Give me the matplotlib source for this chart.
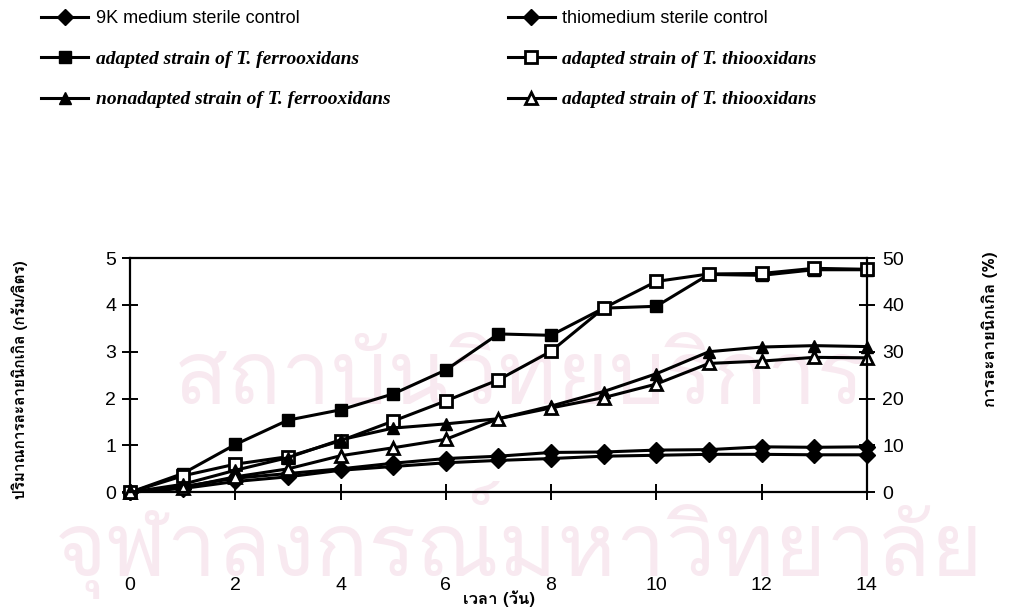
#!/usr/bin/env python3
"""Nickel leaching over time for the sterile controls and the bacterial strains."""

import matplotlib
matplotlib.use("Agg")
import matplotlib.pyplot as plt
from matplotlib import font_manager
from matplotlib.ft2font import FT2Font

days = list(range(15))

# dissolved nickel, g/L
ctrl_9k = [0, 0.12, 0.30, 0.40, 0.50, 0.62, 0.72, 0.77, 0.85, 0.86, 0.90, 0.91, 0.97, 0.96, 0.97]
ctrl_thio = [0, 0.08, 0.23, 0.33, 0.47, 0.55, 0.63, 0.68, 0.72, 0.77, 0.79, 0.81, 0.81, 0.80, 0.80]
ferro_adapted = [0, 0.40, 1.02, 1.54, 1.76, 2.10, 2.61, 3.38, 3.35, 3.93, 3.97, 4.65, 4.63, 4.75, 4.75]
thio_adapted_sq = [0, 0.35, 0.60, 0.76, 1.10, 1.52, 1.95, 2.40, 3.01, 3.93, 4.50, 4.66, 4.67, 4.78, 4.76]
ferro_nonadapted = [0, 0.17, 0.47, 0.74, 1.12, 1.37, 1.46, 1.57, 1.84, 2.15, 2.53, 3.00, 3.10, 3.13, 3.11]
thio_adapted_tri = [0, 0.10, 0.33, 0.50, 0.78, 0.95, 1.13, 1.57, 1.80, 2.02, 2.31, 2.75, 2.80, 2.88, 2.87]

labels = [
    "9K medium sterile control",
    "adapted strain of T. ferrooxidans",
    "nonadapted strain of T. ferrooxidans",
    "thiomedium sterile control",
    "adapted strain of T. thiooxidans",
    "adapted strain of T. thiooxidans",
]


def thai_family():
    # first installed font that actually has Thai glyphs
    for f in font_manager.fontManager.ttflist:
        try:
            if ord("ก") in FT2Font(f.fname).get_charmap():
                return f.name
        except Exception:
            continue
    return "DejaVu Sans"


THAI = [thai_family(), "DejaVu Sans"]
plt.rcParams["font.family"] = ["Liberation Sans", "DejaVu Sans"]

fig = plt.figure(figsize=(10.09, 6.10), dpi=100)
ax = fig.add_axes([0.129, 0.193, 0.730, 0.384])

# faint library stamp, kept underneath everything else
wm = "#f8e9f0"
fig.text(0.515, 0.375, "สถาบันวิทยบริการ", family=THAI, fontsize=64,
         color=wm, ha="center", va="center", zorder=-5)
fig.text(0.515, 0.115, "จุฬาลงกรณ์มหาวิทยาลัย", family=THAI, fontsize=64,
         color=wm, ha="center", va="center", zorder=-5)
ax.patch.set_alpha(0)

line = dict(color="black", lw=2.2, mec="black", clip_on=False)
h1, = ax.plot(days, ctrl_9k, marker="D", mfc="black", ms=8, **line)
h4, = ax.plot(days, ctrl_thio, marker="D", mfc="black", ms=8, **line)
h2, = ax.plot(days, ferro_adapted, marker="s", mfc="black", ms=9, **line)
h5, = ax.plot(days, thio_adapted_sq, marker="s", mfc="white", ms=9, mew=2, **line)
h3, = ax.plot(days, ferro_nonadapted, marker="^", mfc="black", ms=9, **line)
h6, = ax.plot(days, thio_adapted_tri, marker="^", mfc="white", ms=9, mew=2, **line)

ax.set_xlim(0, 14)
ax.set_ylim(0, 5)
ax.set_xticks(range(0, 15, 2))
ax.set_yticks(range(0, 6))
for side in ("top", "right", "left", "bottom"):
    ax.spines[side].set_linewidth(1.6)
ax.tick_params(axis="both", direction="inout", length=12, width=1.4, labelsize=14)
ax.tick_params(axis="x", pad=55)
ax.tick_params(axis="y", pad=4)

ax2 = ax.twinx()
ax2.set_ylim(0, 50)
ax2.set_yticks(range(0, 51, 10))
ax2.tick_params(axis="y", direction="inout", length=12, width=1.4, labelsize=14, pad=5)
for side in ("top", "right", "left", "bottom"):
    ax2.spines[side].set_visible(False)

fig.text(0.494, 0.018, "เวลา (วัน)", family=THAI, fontsize=12,
         fontweight="bold", ha="center", va="center")
fig.text(0.020, 0.377, "ปริมาณการละลายนิกเกิล (กรัม/ลิตร)", family=THAI,
         fontsize=11, fontweight="bold", rotation=90, ha="center", va="center")
fig.text(0.981, 0.460, "การละลายนิกเกิล (%)", family=THAI,
         fontsize=12, fontweight="bold", rotation=90, ha="center", va="center")

leg = fig.legend([h1, h2, h3, h4, h5, h6], labels, ncol=2, loc="upper left",
                 bbox_to_anchor=(0.025, 1.01), frameon=False, handlelength=2.6,
                 handletextpad=0.4, columnspacing=6.5, labelspacing=1.3,
                 fontsize=13)
for i, t in enumerate(leg.get_texts()):
    if labels[i].endswith("control"):
        t.set_family("Liberation Sans")
    else:
        t.set_family("Liberation Serif")
        t.set_style("italic")
        t.set_fontweight("bold")
        t.set_fontsize(14)

fig.savefig("out.png", dpi=100)
